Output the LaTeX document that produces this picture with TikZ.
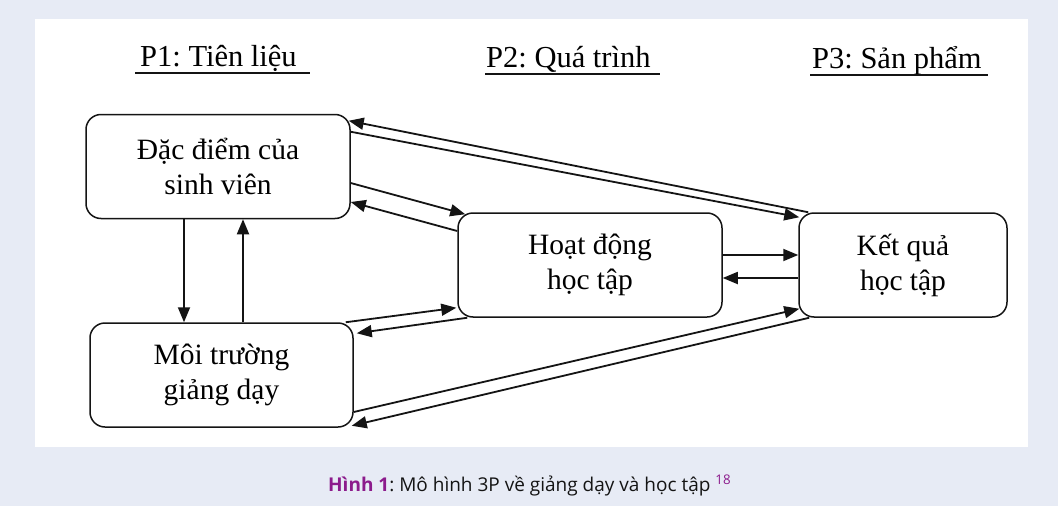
\documentclass[tikz,border=0pt]{standalone}
\usepackage{fontspec}
\setmainfont{Liberation Serif}
\newfontfamily\capfont{Open Sans}
\usetikzlibrary{arrows.meta}
\definecolor{pagebg}{RGB}{231,235,245}
\definecolor{capmagenta}{RGB}{140,27,140}
\definecolor{ink}{RGB}{20,20,20}
\definecolor{captext}{RGB}{20,20,20}
\frenchspacing
\begin{document}
\begin{tikzpicture}[x=1pt,y=-1pt,
  box/.style={draw=ink, line width=1.5pt, rounded corners=15pt, minimum height=104pt,
    align=center, inner sep=0pt, font=\fontsize{29.5}{35}\selectfont},
  link/.style={draw=ink, line width=1.8pt, -{Triangle[length=15pt,width=12pt]}},
  phase/.style={anchor=base west, inner sep=0pt, font=\fontsize{30.5}{36}\selectfont},
  rule/.style={draw=ink, line width=2pt}]
  % page and panel
  \fill[pagebg] (0,0) rectangle (1058,506);
  \fill[white] (35,19) rectangle (1028,447);
  \useasboundingbox (0,0) rectangle (1058,506);

  % phase headings
  \node[phase] (p1) at (140,66.5) {P1: Tiên liệu};
  \node[phase] (p2) at (486,67.5) {P2: Quá trình};
  \node[phase] (p3) at (812,68.5) {P3: Sản phẩm};
  \draw[rule] ([xshift=-5pt,yshift=-6.5pt]p1.base west) -- ++(175,0);
  \draw[rule] ([xshift=-1pt,yshift=-6.5pt]p2.base west) -- ++(175,0);
  \draw[rule] ([xshift=-2pt,yshift=-6.5pt]p3.base west) -- ++(178,0);

  % boxes
  \node[box, minimum width=264pt] (A) at (218,166.5) {Đặc điểm của\\sinh viên};
  \node[box, minimum width=263pt] (B) at (221.5,375) {Môi trường\\giảng dạy};
  \node[box, minimum width=264pt] (C) at (590,265) {Hoạt động\\học tập};
  \node[box, minimum width=208pt] (D) at (903,265) {Kết quả\\học tập};

  % presage links
  \draw[link] ([xshift=-34pt]A.south) -- ([xshift=-37.5pt]B.north);
  \draw[link] ([xshift=21.5pt]B.north) -- ([xshift=25pt]A.south);

  % process <-> product
  \draw[link] ([yshift=10pt]C.east) -- ([yshift=10pt]D.west);
  \draw[link] ([yshift=-13pt]D.west) -- ([yshift=-13pt]C.east);

  % student factors <-> activities
  \draw[link] ([yshift=-16.5pt]A.east) -- ([xshift=8pt,yshift=-2pt]C.north west);
  \draw[link] ([yshift=34pt]C.west) -- ([yshift=-35.5pt]A.east);

  % student factors <-> outcomes
  \draw[link] ([xshift=10pt]D.north west) -- ([xshift=-2pt,yshift=-7pt]A.north east);
  \draw[link] ([yshift=-18pt]A.north east) -- ([xshift=1pt,yshift=-5pt]D.north west);

  % environment <-> activities
  \draw[link] ([xshift=-8pt]B.north east) -- ([xshift=-1pt,yshift=10pt]C.south west);
  \draw[link] ([xshift=10pt]C.south west) -- ([xshift=3pt,yshift=-11pt]B.north east);

  % environment <-> outcomes
  \draw[link] ([yshift=-37pt]B.east) -- ([xshift=1pt,yshift=9pt]D.south west);
  \draw[link] ([xshift=11pt]D.south west) -- ([xshift=-2pt,yshift=2pt]B.south east);

  % caption
  \node[anchor=base west, inner sep=0pt, text=captext,
        font=\capfont\fontsize{19}{22}\selectfont] (cap) at (328,491)
    {\textcolor{capmagenta}{\bfseries Hình 1}: Mô hình 3P về giảng dạy và học tập \textsuperscript{\color{capmagenta}18}};
\end{tikzpicture}
\end{document}
